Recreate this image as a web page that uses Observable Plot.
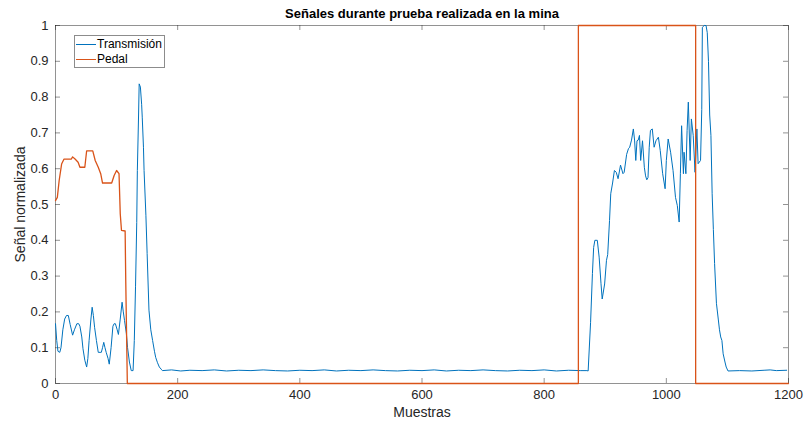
<!DOCTYPE html>
<html>
<head>
<meta charset="utf-8">
<script src="https://cdn.jsdelivr.net/npm/d3@7"></script>
<script src="https://cdn.jsdelivr.net/npm/@observablehq/plot@0.6"></script>
<style>
  html, body { margin: 0; padding: 0; background: #fff; }
  #wrap { position: relative; width: 804px; height: 423px; font-family: "Liberation Sans", Arial, sans-serif; }
  #legend { position: absolute; left: 74px; top: 35px; width: 91px; height: 33px; border: 1px solid #8c8c8c; background: #fff; font-size: 12px; color: #000; box-sizing: border-box; }
  .row { position: absolute; left: 0; height: 14px; line-height: 14px; white-space: nowrap; }
  .sw { position: absolute; left: 1px; top: 7px; width: 20px; height: 0; border-top: 1px solid; }
  .lab { position: absolute; left: 22px; top: 0; }
</style>
</head>
<body>
<div id="wrap">
  <div id="chart"></div>
  <div id="legend"></div>
</div>
<script>
const title = "Señales durante prueba realizada en la mina";
const xLabel = "Muestras";
const yLabel = "Señal normalizada";
const seriesNames = ["Transmisión", "Pedal"];
const seriesColors = ["#0072BD", "#D95319"];
const xTicks = [0, 200, 400, 600, 800, 1000, 1200];
const yTicks = [0, 0.1, 0.2, 0.3, 0.4, 0.5, 0.6, 0.7, 0.8, 0.9, 1];

const transX = [0,2,4,7,9,12,15,18,21,24,28,31,35,38,40,43,45,48,51,53,55,58,60,62,64,67,70,73,75,77,79,81,83,86,88,91,94,96,98,101,103,106,109,111,113,116,118,121,124,127,129,131,133,134,136,137,139,141,142,144,145,148,150,153,156,159,162,164,167,170,173,175,
190,205,220,240,260,280,300,320,340,360,380,400,420,440,460,480,500,520,540,560,580,600,620,640,660,680,700,720,740,760,780,800,820,840,860,870,
872,876,879,881,883,887,890,893,895,899,902,904,907,909,912,915,918,921,925,929,931,935,938,940,943,946,948,950,952,954,956,958,961,964,966,968,970,972,974,977,980,983,987,990,994,998,1000,1003,1007,1011,1015,1018,1021,1023,1025,1028,1029,1032,1034,1036,1039,1041,1044,1047,1050,1052,1056,1058,1059,1062,1065,1067,1069,1071,1073,1075,1077,1079,1082,1085,1087,1089,1091,1093,1096,1098,1101,1120,1140,1160,1170,1180,1197];
const transY = [0.167,0.12,0.09,0.087,0.1,0.15,0.18,0.19,0.19,0.165,0.135,0.15,0.167,0.167,0.16,0.13,0.097,0.065,0.046,0.07,0.12,0.18,0.213,0.19,0.157,0.12,0.087,0.087,0.087,0.1,0.115,0.1,0.087,0.07,0.054,0.1,0.16,0.167,0.167,0.15,0.137,0.18,0.227,0.2,0.176,0.14,0.1,0.06,0.036,0.036,0.12,0.27,0.45,0.595,0.75,0.837,0.828,0.78,0.744,0.66,0.595,0.47,0.363,0.205,0.15,0.12,0.09,0.073,0.058,0.046,0.04,0.036,
0.038,0.035,0.037,0.036,0.038,0.035,0.037,0.036,0.038,0.036,0.035,0.037,0.036,0.038,0.035,0.037,0.036,0.038,0.036,0.035,0.037,0.036,0.038,0.035,0.037,0.036,0.038,0.036,0.035,0.037,0.036,0.038,0.035,0.037,0.036,0.036,
0.035,0.171,0.307,0.38,0.4,0.4,0.353,0.28,0.236,0.278,0.344,0.36,0.455,0.53,0.56,0.595,0.59,0.572,0.61,0.586,0.59,0.64,0.656,0.66,0.68,0.711,0.68,0.623,0.678,0.68,0.693,0.623,0.678,0.604,0.58,0.569,0.575,0.66,0.707,0.711,0.66,0.678,0.688,0.651,0.586,0.544,0.623,0.683,0.646,0.595,0.52,0.497,0.451,0.586,0.72,0.586,0.646,0.586,0.707,0.786,0.623,0.739,0.693,0.59,0.711,0.614,0.623,0.765,0.995,1.0,1.0,0.98,0.9,0.75,0.693,0.53,0.43,0.335,0.224,0.18,0.15,0.13,0.12,0.083,0.06,0.046,0.035,0.036,0.035,0.037,0.038,0.036,0.037];

const pedalX = [0,3,6,10,14,26,28,32,37,40,48,51,61,65,70,74,77,92,96,100,104,106,108,114,115,117.6,856,856,1048,1048,1200];
const pedalY = [0.511,0.52,0.567,0.613,0.627,0.627,0.633,0.627,0.618,0.604,0.604,0.65,0.65,0.623,0.604,0.586,0.56,0.56,0.581,0.595,0.586,0.474,0.428,0.426,0.288,0,0,1,1,0,0];

const trans = transX.map((x, i) => ({x, y: transY[i]}));
const pedal = pedalX.map((x, i) => ({x, y: pedalY[i]}));

const W = 804, H = 423, mL = 55, mR = 16, mT = 25, mB = 40;
const innerH = H - mT - mB, innerW = W - mL - mR;
const axisColor = "#262626";

const chart = Plot.plot({
  width: W, height: H,
  marginLeft: mL, marginRight: mR, marginTop: mT, marginBottom: mB,
  style: {fontFamily: '"Liberation Sans", Arial, sans-serif', fontSize: "13px", color: axisColor, background: "#fff", overflow: "visible"},
  x: {domain: [0, 1200]},
  y: {domain: [0, 1]},
  marks: [
    Plot.frame({stroke: axisColor, strokeWidth: 0.5}),
    Plot.tickX(xTicks, {x: d => d, stroke: axisColor, strokeWidth: 0.5, insetTop: innerH - 5}),
    Plot.tickX(xTicks, {x: d => d, stroke: axisColor, strokeWidth: 0.5, insetBottom: innerH - 5}),
    Plot.tickY(yTicks, {y: d => d, stroke: axisColor, strokeWidth: 0.5, insetRight: innerW - 5}),
    Plot.tickY(yTicks, {y: d => d, stroke: axisColor, strokeWidth: 0.5, insetLeft: innerW - 5}),
    Plot.line(trans, {x: "x", y: "y", stroke: seriesColors[0], strokeWidth: 1}),
    Plot.line(pedal, {x: "x", y: "y", stroke: seriesColors[1], strokeWidth: 1.3}),
    Plot.axisX({ticks: xTicks, tickSize: 0, tickPadding: 6, label: null, tickFormat: d => String(d), fontSize: 13}),
    Plot.axisY({ticks: yTicks, tickSize: 0, tickPadding: 7, label: null, tickFormat: d => String(+d.toFixed(1)), fontSize: 13}),
    Plot.text([title], {frameAnchor: "top", dy: -8, lineAnchor: "bottom", fontWeight: "bold", fontSize: 13, fill: "#000"}),
    Plot.text([xLabel], {frameAnchor: "bottom", dy: 29, lineAnchor: "middle", fontSize: 14, fill: axisColor}),
    Plot.text([yLabel], {frameAnchor: "left", dx: -35, rotate: -90, textAnchor: "middle", lineAnchor: "middle", fontSize: 14, fill: axisColor})
  ]
});
document.getElementById("chart").appendChild(chart);

const legend = document.getElementById("legend");
seriesNames.forEach((name, i) => {
  const row = document.createElement("div");
  row.className = "row";
  row.style.top = (0.5 + i * 15) + "px";
  row.style.width = "100%";
  const sw = document.createElement("div");
  sw.className = "sw";
  sw.style.borderColor = seriesColors[i];
  const lab = document.createElement("div");
  lab.className = "lab";
  lab.textContent = name;
  row.appendChild(sw); row.appendChild(lab);
  legend.appendChild(row);
});
</script>
</body>
</html>
